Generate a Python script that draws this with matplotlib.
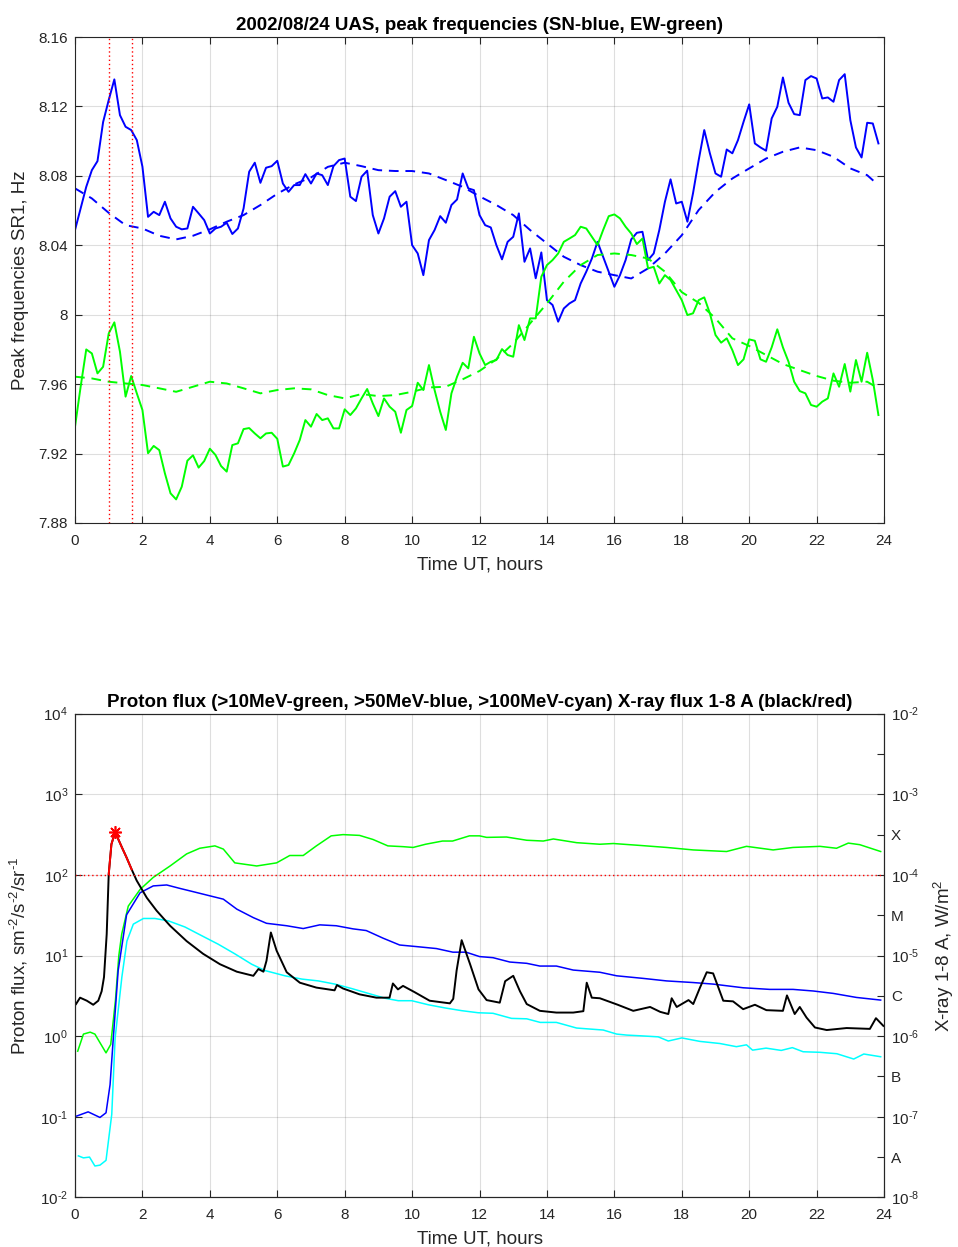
import numpy as np
import matplotlib
matplotlib.use("Agg")
import matplotlib.pyplot as plt
from matplotlib.ticker import FixedLocator, FixedFormatter, NullLocator

plt.rcParams['font.family'] = ['Liberation Sans', 'DejaVu Sans']
plt.rcParams['mathtext.fontset'] = 'custom'
plt.rcParams['mathtext.rm'] = 'Liberation Sans'
plt.rcParams['mathtext.it'] = 'Liberation Sans:italic'
plt.rcParams['mathtext.bf'] = 'Liberation Sans:bold'

# ---------------- Schumann resonance peak frequencies (10-min steps) ----------------
sn_freq = [
    8.0488, 8.0612, 8.0737, 8.0833, 8.0885, 8.1110, 8.1237, 8.1356, 8.1150, 8.1083,
    8.1064, 8.1006, 8.0853, 8.0564, 8.0593, 8.0574, 8.0651, 8.0555, 8.0507, 8.0492,
    8.0497, 8.0622, 8.0584, 8.0545, 8.0468, 8.0497, 8.0507, 8.0530, 8.0465, 8.0497,
    8.0612, 8.0824, 8.0876, 8.0760, 8.0847, 8.0856, 8.0887, 8.0756, 8.0708, 8.0747,
    8.0747, 8.0810, 8.0756, 8.0814, 8.0804, 8.0747, 8.0856, 8.0891, 8.0900, 8.0680,
    8.0655, 8.0795, 8.0830, 8.0574, 8.0468, 8.0555, 8.0680, 8.0712, 8.0622, 8.0651,
    8.0401, 8.0353, 8.0228, 8.0430, 8.0488, 8.0568, 8.0530, 8.0632, 8.0664, 8.0814,
    8.0728, 8.0718, 8.0574, 8.0516, 8.0503, 8.0401, 8.0319, 8.0420, 8.0449, 8.0584,
    8.0305, 8.0382, 8.0210, 8.0359, 8.0084, 8.0056, 7.9960, 8.0036, 8.0065, 8.0084,
    8.0180, 8.0248, 8.0324, 8.0420, 8.0334, 8.0248, 8.0161, 8.0228, 8.0315, 8.0434,
    8.0472, 8.0478, 8.0315, 8.0353, 8.0488, 8.0651, 8.0780, 8.0641, 8.0651, 8.0536,
    8.0700, 8.0889, 8.1064, 8.0930, 8.0814, 8.0795, 8.0952, 8.0930, 8.1006, 8.1112,
    8.1212, 8.0987, 8.0964, 8.0945, 8.1131, 8.1198, 8.1367, 8.1221, 8.1156, 8.1150,
    8.1352, 8.1375, 8.1361, 8.1246, 8.1252, 8.1227, 8.1352, 8.1386, 8.1121, 8.0964,
    8.0906, 8.1106, 8.1102, 8.0987,
]
ew_freq = [
    7.9355, 7.9585, 7.9800, 7.9777, 7.9662, 7.9700, 7.9892, 7.9956, 7.9787, 7.9528,
    7.9647, 7.9547, 7.9451, 7.9202, 7.9244, 7.9220, 7.9086, 7.8971, 7.8936, 7.9009,
    7.9159, 7.9190, 7.9119, 7.9157, 7.9228, 7.9192, 7.9128, 7.9096, 7.9249, 7.9259,
    7.9341, 7.9347, 7.9316, 7.9288, 7.9316, 7.9320, 7.9285, 7.9125, 7.9134, 7.9201,
    7.9278, 7.9393, 7.9355, 7.9428, 7.9393, 7.9403, 7.9345, 7.9345, 7.9455, 7.9422,
    7.9460, 7.9518, 7.9572, 7.9489, 7.9416, 7.9518, 7.9470, 7.9441, 7.9320, 7.9451,
    7.9474, 7.9608, 7.9566, 7.9710, 7.9566, 7.9441, 7.9336, 7.9547, 7.9643, 7.9723,
    7.9691, 7.9873, 7.9777, 7.9710, 7.9729, 7.9739, 7.9802, 7.9768, 7.9758, 7.9940,
    7.9854, 7.9979, 7.9979, 8.0219, 8.0286, 8.0315, 8.0353, 8.0420, 8.0439, 8.0459,
    8.0507, 8.0497, 8.0449, 8.0401, 8.0488, 8.0568, 8.0578, 8.0555, 8.0507, 8.0468,
    8.0407, 8.0439, 8.0267, 8.0276, 8.0180, 8.0228, 8.0200, 8.0142, 8.0084, 7.9998,
    8.0008, 8.0084, 8.0100, 8.0008, 7.9883, 7.9839, 7.9864, 7.9796, 7.9710, 7.9743,
    7.9858, 7.9850, 7.9743, 7.9729, 7.9812, 7.9916, 7.9812, 7.9729, 7.9614, 7.9560,
    7.9547, 7.9480, 7.9470, 7.9499, 7.9518, 7.9662, 7.9585, 7.9716, 7.9557, 7.9739,
    7.9614, 7.9781, 7.9624, 7.9422,
]
freq_step_h = 1.0 / 6.0

# smoothed (background) curves, half-hour steps
smooth_t = [0, 0.5, 1, 1.5, 2, 2.5, 3, 3.5, 4, 4.5, 5, 5.5, 6, 6.5, 7, 7.5, 8, 8.5,
            9, 9.5, 10, 10.5, 11, 11.5, 12, 12.5, 13, 13.5, 14, 14.5, 15, 15.5, 16,
            16.5, 17, 17.5, 18, 18.5, 19, 19.5, 20, 20.5, 21, 21.5, 22, 22.5, 23,
            23.5, 23.83]
sn_smooth = [8.0728, 8.0670, 8.0587, 8.0516, 8.0497, 8.0455, 8.0434, 8.0455, 8.0492,
             8.0536, 8.0574, 8.0632, 8.0697, 8.0751, 8.0791, 8.0852, 8.0876, 8.0856,
             8.0833, 8.0828, 8.0828, 8.0814, 8.0776, 8.0737, 8.0682, 8.0632, 8.0574,
             8.0488, 8.0411, 8.0334, 8.0286, 8.0248, 8.0228, 8.0209, 8.0267, 8.0353,
             8.0458, 8.0603, 8.0708, 8.0785, 8.0843, 8.0900, 8.0939, 8.0964, 8.0948,
             8.0910, 8.0843, 8.0804, 8.0747]
ew_smooth = [7.9643, 7.9633, 7.9614, 7.9604, 7.9595, 7.9576, 7.9556, 7.9585, 7.9614,
             7.9604, 7.9576, 7.9547, 7.9566, 7.9576, 7.9570, 7.9537, 7.9518, 7.9543,
             7.9531, 7.9537, 7.9556, 7.9581, 7.9585, 7.9628, 7.9676, 7.9743, 7.9835,
             7.9950, 8.0065, 8.0190, 8.0286, 8.0344, 8.0353, 8.0344, 8.0324, 8.0248,
             8.0130, 8.0069, 7.9979, 7.9864, 7.9820, 7.9768, 7.9716, 7.9681, 7.9647,
             7.9620, 7.9608, 7.9614, 7.9576]

# X-class interval (hours UT)
flare_start, flare_end = 1.0, 1.7

# ---------------- GOES proton flux ----------------
p10_t = [0.08, 0.25, 0.45, 0.59, 0.74, 0.92, 1.06, 1.2, 1.3, 1.385, 1.58, 1.93, 2.32,
         2.82, 3.31, 3.7, 4.15, 4.4, 4.74, 5.39, 5.98, 6.37, 6.77, 7.16, 7.6, 7.95,
         8.44, 8.84, 9.28, 9.73, 10.03, 10.4, 10.9, 11.2, 11.7, 12.0, 12.21, 12.8,
         13.4, 13.89, 14.19, 14.88, 15.57, 15.97, 16.76, 17.55, 18.34, 19.33, 19.92,
         20.71, 21.3, 22.1, 22.59, 22.94, 23.28, 23.9]
p10_flux = [0.65, 1.06, 1.12, 1.06, 0.83, 0.62, 0.79, 2.8, 10.0, 18.4, 41, 66, 93,
            129, 182, 214, 229, 209, 141, 129, 141, 174, 174, 229, 305, 316, 309,
            275, 229, 224, 219, 240, 263, 263, 305, 305, 292, 295, 269, 263, 279,
            251, 240, 245, 232, 219, 204, 195, 226, 204, 219, 226, 214, 248, 237, 195]

p50_t = [0.05, 0.39, 0.74, 0.92, 1.04, 1.13, 1.28, 1.53, 1.93, 2.32, 2.72, 3.11, 3.5,
         4.0, 4.4, 4.8, 5.29, 5.68, 6.28, 6.77, 7.26, 7.75, 8.25, 8.64, 9.14, 9.63,
         10.13, 10.72, 11.21, 11.6, 12.0, 12.4, 12.9, 13.4, 13.79, 14.28, 14.78,
         15.57, 16.07, 16.86, 17.55, 18.34, 18.93, 19.82, 20.61, 21.3, 21.9, 22.49,
         23.18, 23.9]
p50_flux = [0.102, 0.115, 0.098, 0.112, 0.25, 0.87, 6.5, 32, 60, 73, 75, 68, 62, 55,
            50, 37.6, 29.5, 25.1, 23.4, 21.6, 24.0, 23.4, 21.4, 20.4, 16.4, 13.5,
            12.9, 12.2, 11.0, 11.0, 9.7, 9.4, 8.3, 8.0, 7.4, 7.4, 6.6, 6.2, 5.6, 5.2,
            4.84, 4.62, 4.42, 3.98, 3.8, 3.8, 3.63, 3.39, 3.02, 2.8]

p100_t = [0.1, 0.25, 0.43, 0.59, 0.74, 0.92, 1.09, 1.19, 1.39, 1.54, 1.73, 2.03, 2.37,
          2.77, 3.26, 3.76, 4.25, 4.74, 5.24, 5.64, 6.23, 6.73, 7.22, 7.71, 8.21, 8.7,
          9.2, 9.59, 9.99, 10.48, 10.97, 11.47, 11.96, 12.4, 12.95, 13.4, 13.8,
          14.28, 14.88, 15.67, 16.07, 16.37, 16.76, 17.3, 17.6, 18.0, 18.54, 19.13,
          19.62, 19.92, 20.1, 20.5, 20.95, 21.28, 21.6, 22.1, 22.6, 23.1, 23.4, 23.9]
p100_flux = [0.0327, 0.0309, 0.0316, 0.0245, 0.0251, 0.0288, 0.107, 0.95, 5.4, 15.1,
             24.5, 28.8, 28.8, 26.9, 22.6, 17.6, 13.8, 10.5, 7.8, 6.5, 5.6, 5.1, 4.84,
             4.42, 3.89, 3.39, 2.95, 2.75, 2.75, 2.45, 2.24, 2.07, 1.95, 1.92, 1.66,
             1.64, 1.48, 1.48, 1.26, 1.19, 1.06, 1.03, 1.01, 0.98, 0.87, 0.95, 0.86,
             0.81, 0.74, 0.78, 0.67, 0.71, 0.665, 0.72, 0.64, 0.63, 0.605, 0.52, 0.60,
             0.555]

# ---------------- GOES X-ray flux 1-8 A ----------------
xr_t = [0.03, 0.15, 0.35, 0.54, 0.69, 0.79, 0.86, 0.94, 1.0, 1.08, 1.19, 1.39, 1.53,
        1.68, 1.83, 2.13, 2.42, 2.82, 3.31, 3.8, 4.3, 4.8, 5.29, 5.44, 5.59, 5.68,
        5.81, 5.98, 6.28, 6.67, 7.16, 7.7, 7.77, 7.95, 8.44, 8.94, 9.33, 9.43, 9.58,
        9.73, 10.08, 10.52, 11.12, 11.22, 11.32, 11.47, 11.72, 11.97, 12.21, 12.6,
        12.76, 13.0, 13.2, 13.4, 13.79, 14.28, 14.78, 15.08, 15.18, 15.33, 15.57,
        16.1, 16.56, 17.06, 17.36, 17.6, 17.7, 17.85, 18.2, 18.34, 18.54, 18.74,
        18.93, 19.23, 19.52, 19.82, 20.17, 20.51, 21.0, 21.12, 21.35, 21.5, 21.7,
        21.95, 22.3, 22.89, 23.58, 23.76, 23.98]
xr_flux = [2.5e-6, 3.0e-6, 2.75e-6, 2.45e-6, 2.75e-6, 3.6e-6, 5.4e-6, 1.84e-5, 1.02e-4,
           2.4e-4, 3.4e-4, 2.2e-4, 1.64e-4, 1.17e-4, 8.5e-5, 5.2e-5, 3.6e-5, 2.34e-5,
           1.51e-5, 1.05e-5, 7.8e-6, 6.3e-6, 5.6e-6, 6.8e-6, 6.3e-6, 8.6e-6, 1.93e-5,
           1.15e-5, 6.2e-6, 4.6e-6, 4.0e-6, 3.7e-6, 4.3e-6, 3.9e-6, 3.3e-6, 3.0e-6,
           3.0e-6, 4.5e-6, 3.8e-6, 4.2e-6, 3.5e-6, 2.75e-6, 2.55e-6, 2.9e-6, 6.5e-6,
           1.55e-5, 7.8e-6, 3.8e-6, 2.8e-6, 2.6e-6, 4.8e-6, 5.6e-6, 3.6e-6, 2.5e-6,
           2.06e-6, 1.96e-6, 1.96e-6, 2.04e-6, 4.6e-6, 3.0e-6, 2.95e-6, 2.45e-6,
           2.06e-6, 2.3e-6, 2.0e-6, 1.88e-6, 2.95e-6, 2.3e-6, 2.8e-6, 2.5e-6, 4.0e-6,
           6.2e-6, 6.0e-6, 2.75e-6, 2.7e-6, 2.16e-6, 2.45e-6, 2.1e-6, 2.06e-6, 3.2e-6,
           1.88e-6, 2.3e-6, 1.7e-6, 1.28e-6, 1.19e-6, 1.26e-6, 1.23e-6, 1.67e-6, 1.34e-6]
x_class = 1e-4

# ---------------- styling ----------------
AX = '#262626'
FS = 11        # tick labels
LFS = 13.5     # axis labels and titles
LW = 1.4


def style_axes(ax):
    for s in ax.spines.values():
        s.set_color(AX)
        s.set_linewidth(0.8)
    ax.tick_params(direction='in', length=5, width=0.8, colors=AX, labelsize=FS,
                   labelcolor=AX)
    ax.tick_params(axis='x', pad=8)
    ax.tick_params(axis='y', pad=5)
    ax.grid(True, color=AX, alpha=0.15, linewidth=0.8)
    ax.set_axisbelow(True)


def pow10(e):
    return r'$10^{\text{-}%d}$' % (-e) if e < 0 else r'$10^{%d}$' % e


fig = plt.figure(figsize=(9.58, 12.47), dpi=100)

# ---------------- top panel ----------------
ax1 = fig.add_axes([0.0783, 0.5806, 0.8445, 0.3897])
style_axes(ax1)
t_f = np.arange(len(sn_freq)) * freq_step_h
ax1.plot(t_f, sn_freq, color=(0, 0, 1), lw=LW)
ax1.plot(smooth_t, sn_smooth, color=(0, 0, 1), lw=LW, dashes=(5, 3.5))
ax1.plot(t_f, ew_freq, color=(0, 1, 0), lw=LW)
ax1.plot(smooth_t, ew_smooth, color=(0, 1, 0), lw=LW, dashes=(5, 3.5))
for tv in (flare_start, flare_end):
    ax1.axvline(tv, color='red', ls=(0, (1, 2)), lw=1.0)
ax1.set_xlim(0, 24)
ax1.set_ylim(7.88, 8.16)
ax1.set_xticks(np.arange(0, 25, 2))
yt = [7.88, 7.92, 7.96, 8.00, 8.04, 8.08, 8.12, 8.16]
ax1.set_yticks(yt)
ax1.set_yticklabels(['7.88', '7.92', '7.96', '8', '8.04', '8.08', '8.12', '8.16'])
ax1.tick_params(top=True, right=True)
ax1.set_xlabel('Time UT, hours', fontsize=LFS, color=AX, labelpad=6)
ax1.set_ylabel('Peak frequencies SR1, Hz', fontsize=LFS, color=AX, labelpad=7)
ax1.set_title('2002/08/24 UAS, peak frequencies (SN-blue, EW-green)',
              fontsize=LFS, fontweight='bold', color='black', pad=5)

# ---------------- bottom panel ----------------
ax2 = fig.add_axes([0.0783, 0.0398, 0.8445, 0.3879])
style_axes(ax2)
ax2.set_yscale('log')
ax2.plot(p10_t, p10_flux, color=(0, 1, 0), lw=1.1)
ax2.plot(p50_t, p50_flux, color=(0, 0, 1), lw=1.1)
ax2.plot(p100_t, p100_flux, color=(0, 1, 1), lw=1.1)
ax2.set_xlim(0, 24)
ax2.set_ylim(1e-2, 1e4)
ax2.set_xticks(np.arange(0, 25, 2))
lt_exp = list(range(-2, 5))
ax2.yaxis.set_major_locator(FixedLocator([10.0 ** e for e in lt_exp]))
ax2.yaxis.set_major_formatter(FixedFormatter([pow10(e) for e in lt_exp]))
ax2.yaxis.set_minor_locator(NullLocator())
ax2.set_xlabel('Time UT, hours', fontsize=LFS, color=AX, labelpad=6)
ax2.set_ylabel(r'Proton flux, sm$^{\text{-}2}$/s$^{\text{-}2}$/sr$^{\text{-}1}$',
               fontsize=LFS, color=AX, labelpad=7)
ax2.set_title('Proton flux (>10MeV-green, >50MeV-blue, >100MeV-cyan) '
              'X-ray flux 1-8 A (black/red)',
              fontsize=LFS, fontweight='bold', color='black', pad=5)

ax3 = ax2.twinx()
ax3.set_yscale('log')
ax3.set_ylim(1e-8, 1e-2)
for s in ax3.spines.values():
    s.set_color(AX)
    s.set_linewidth(0.8)
ax3.tick_params(direction='in', length=5, width=0.8, colors=AX, labelsize=FS,
                labelcolor=AX, pad=5)
rt_exp = np.arange(-8, -1.9, 0.5)
rt_lab = {-7.5: 'A', -6.5: 'B', -5.5: 'C', -4.5: 'M', -3.5: 'X'}


def right_label(e):
    if float(e).is_integer():
        return pow10(int(e))
    return rt_lab.get(float(e), '')


ax3.yaxis.set_major_locator(FixedLocator(10.0 ** rt_exp))
ax3.yaxis.set_major_formatter(FixedFormatter([right_label(e) for e in rt_exp]))
ax3.yaxis.set_minor_locator(NullLocator())
ax3.set_ylabel(r'X-ray 1-8 A, W/m$^{2}$', fontsize=LFS, color=AX, labelpad=9)

xr_t_a = np.array(xr_t)
xr_f_a = np.array(xr_flux)
ax3.plot(xr_t_a, xr_f_a, color='black', lw=1.4)
hot = (xr_t_a >= flare_start) & (xr_t_a <= flare_end)
ax3.plot(xr_t_a[hot], xr_f_a[hot], color='red', lw=1.4)
ipk = int(np.argmax(xr_f_a))
ax3.plot(xr_t_a[ipk], xr_f_a[ipk], color='red', marker=(8, 2, 0), ms=9, mew=1.2)
ax3.axhline(x_class, color='red', ls=(0, (1, 2)), lw=1.0)

fig.savefig('out.png', dpi=100)
